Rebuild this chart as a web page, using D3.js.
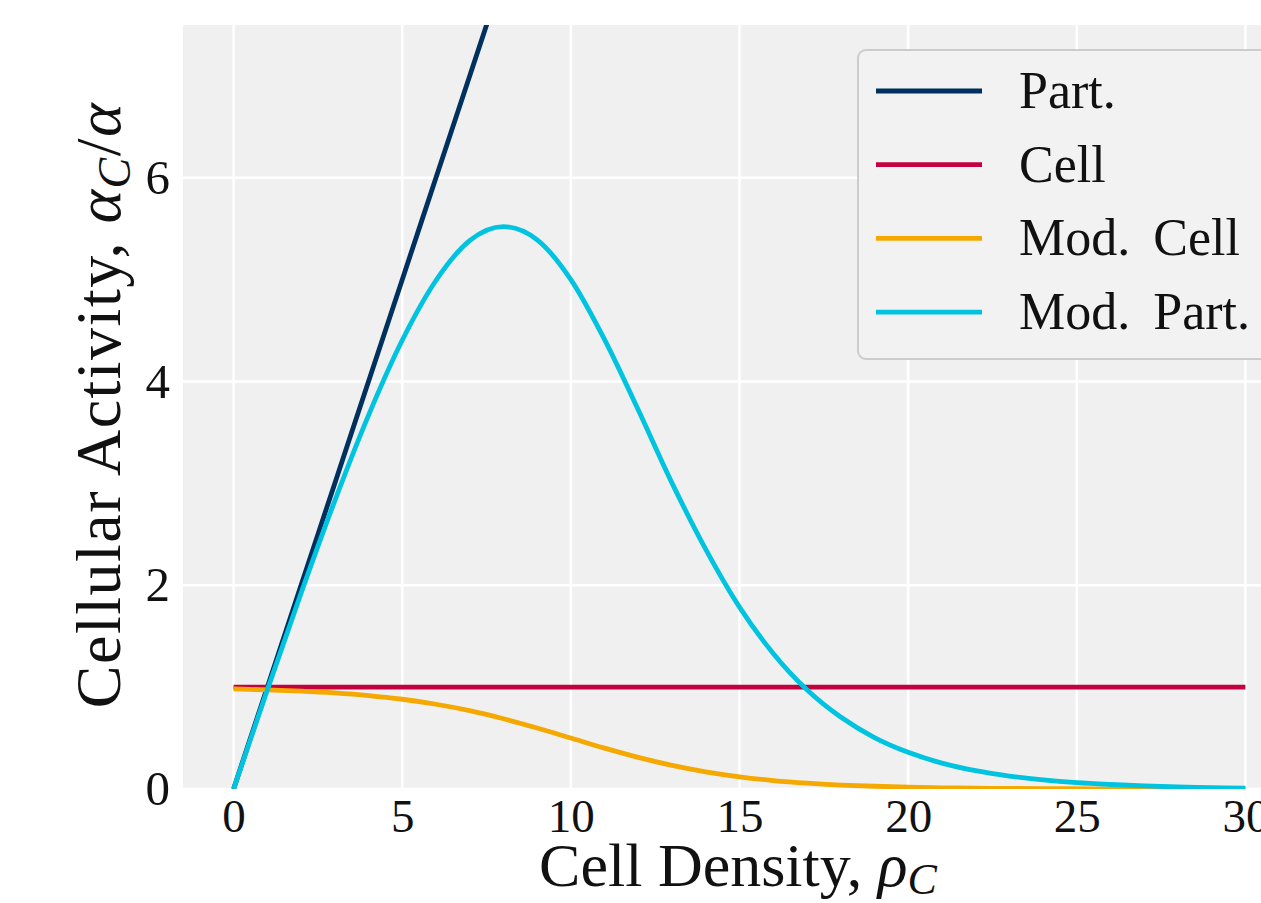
<!DOCTYPE html>
<html><head><meta charset="utf-8">
<script src="https://cdn.jsdelivr.net/npm/d3@7"></script>
<style>body{margin:0;background:#fff;} svg{display:block;}</style>
</head><body>
<svg id="c" width="1261" height="903"></svg>
<script>
const rho = [0,1,2,3,4,5,6,7,8,9,10,11,12,13,14,15,16,17,18,19,20,21,22,23,24,25,26,27,28,29,30];
const part = [0,1,2,3,4,5,6,7,8,9,10,11,12,13,14,15,16,17,18,19,20,21,22,23,24,25,26,27,28,29,30];
const cell = [1,1,1,1,1,1,1,1,1,1,1,1,1,1,1,1,1,1,1,1,1,1,1,1,1,1,1,1,1,1,1];
const modCell = [0.982,0.973,0.961,0.943,0.917,0.881,0.832,0.769,0.690,0.599,0.5,0.401,0.310,0.231,0.168,0.119,0.083,0.057,0.039,0.027,0.018,0.012,0.008,0.0055,0.0037,0.0025,0.0017,0.0011,0.0007,0.0005,0.0003];
const modPart = [0,0.973,1.922,2.829,3.668,4.405,4.992,5.383,5.52,5.391,5.0,4.411,3.72,3.003,2.352,1.785,1.331,0.974,0.706,0.505,0.36,0.254,0.180,0.127,0.089,0.062,0.044,0.030,0.020,0.014,0.009];
const seriesNames = ["Part.","Cell","Mod. Cell","Mod. Part."];
const seriesColors = ["#00305e","#c4003f","#f5a800","#00c3e0"];
const xTicks = [0,5,10,15,20,25,30];
const yTicks = [0,2,4,6];

const svg = d3.select("#c");
const L = 183, R = 1296, T = 25, B = 789;
const x = d3.scaleLinear().domain([-1.5,31.5]).range([L,R]);
const y = d3.scaleLinear().domain([0,7.5]).range([B,T]);
const font = "'Liberation Serif', 'DejaVu Serif', serif";

svg.append("defs").append("clipPath").attr("id","clip")
  .append("rect").attr("x",L).attr("y",T).attr("width",R-L).attr("height",B-T);

svg.append("rect").attr("x",L).attr("y",T).attr("width",R-L).attr("height",B-T).attr("fill","#f0f0f0");

// grid
const g = svg.append("g");
g.selectAll(".gx").data(xTicks).join("line")
  .attr("x1",d=>x(d)).attr("x2",d=>x(d)).attr("y1",T).attr("y2",B)
  .attr("stroke","#ffffff").attr("stroke-width",2.5);
g.selectAll(".gy").data(yTicks).join("line")
  .attr("x1",L).attr("x2",R).attr("y1",d=>y(d)).attr("y2",d=>y(d))
  .attr("stroke","#ffffff").attr("stroke-width",2.5);

// axes
const xAxis = svg.append("g").attr("transform",`translate(0,${B})`)
  .call(d3.axisBottom(x).tickValues(xTicks).tickSize(0).tickPadding(10).tickFormat(d3.format("d")));
xAxis.select(".domain").remove();
xAxis.selectAll("text").attr("font-family",font).attr("font-size",47).attr("fill","#111");

const yAxis = svg.append("g").attr("transform",`translate(${L},0)`)
  .call(d3.axisLeft(y).tickValues(yTicks).tickSize(0).tickPadding(13).tickFormat(d3.format("d")));
yAxis.select(".domain").remove();
yAxis.selectAll("text").attr("font-family",font).attr("font-size",49).attr("fill","#111");

// lines
const data = [part, cell, modCell, modPart];
const line = d3.line().x((d,i)=>x(rho[i])).y(d=>y(d)).curve(d3.curveMonotoneX);
const lg = svg.append("g").attr("clip-path","url(#clip)");
data.forEach((s,k)=>{
  lg.append("path").datum(s).attr("d",line).attr("fill","none")
    .attr("stroke",seriesColors[k]).attr("stroke-width",4.8);
});

// axis labels
const xl = svg.append("text").attr("x",738).attr("y",886).attr("text-anchor","middle")
  .attr("font-family",font).attr("font-size",62).attr("fill","#111");
xl.append("tspan").text("Cell Density, ");
xl.append("tspan").attr("font-style","italic").text("ρ");
xl.append("tspan").attr("font-style","italic").attr("font-size",44).attr("dy",8).text("C");

const yl = svg.append("text").attr("transform","translate(120,405) rotate(-90)").attr("text-anchor","middle")
  .attr("font-family",font).attr("font-size",64).attr("letter-spacing",1.5).attr("fill","#111");
yl.append("tspan").text("Cellular Activity, ");
yl.append("tspan").attr("font-style","italic").text("α");
yl.append("tspan").attr("font-style","italic").attr("font-size",46).attr("dy",10).text("C");
yl.append("tspan").attr("dy",-10).text("/");
yl.append("tspan").attr("font-style","italic").text("α");

// legend
const leg = svg.append("g");
leg.append("rect").attr("x",858).attr("y",50).attr("width",430).attr("height",309)
  .attr("rx",8).attr("fill","#f2f2f2").attr("stroke","#cccccc").attr("stroke-width",2);
seriesNames.forEach((n,k)=>{
  const yy = 91 + k*73.7;
  leg.append("line").attr("x1",876).attr("x2",982).attr("y1",yy).attr("y2",yy)
    .attr("stroke",seriesColors[k]).attr("stroke-width",4.8);
  leg.append("text").attr("x",1019).attr("y",yy+17).attr("font-family",font).attr("font-size",52)
    .attr("word-spacing",10).attr("fill","#111").text(n);
});
</script>
</body></html>
